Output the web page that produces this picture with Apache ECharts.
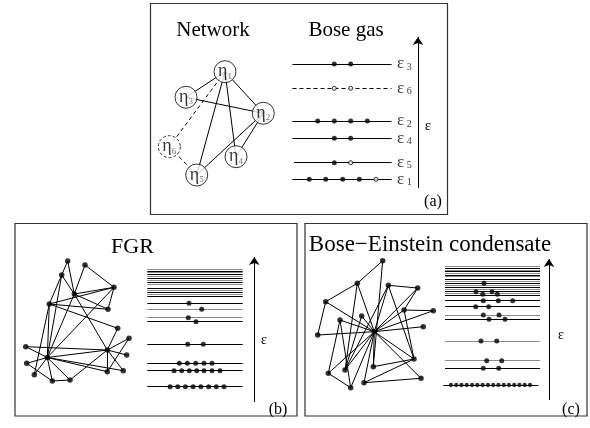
<!DOCTYPE html>
<html><head><meta charset="utf-8">
<script src="https://cdn.jsdelivr.net/npm/echarts@6/dist/echarts.min.js"></script>
<style>html,body{margin:0;padding:0;background:#fff}#c{width:590px;height:428px}</style>
</head><body><div id="c"></div><script>
// ---------- Panel (a): network ----------
const aNodes = [[225,71.7],[263.3,113.3],[186,97.3],[236,156.7],[196.7,175],[169.3,146.7]];
const aNodeNames = ['1','2','3','4','5','6'];
const aSolidEdges = [[0,2],[0,1],[0,3],[0,4],[2,1],[1,3],[1,4]];
const aDashedEdges = [[0,5],[5,4]];
// ---------- Panel (a): Bose gas levels ----------
const aLevelNames = ['3','6','2','4','5','1'];
const aLevelY = [64,88.3,121,138.3,162.7,179.3];
const aLevelDashed = [false,true,false,false,false,false];
const aFilled = [[334.3,350.7],[],[317.7,334.3,350.7,367.3],[334.3,350.7],[334.3],[309.3,325.7,342.7,359.3]];
const aOpen = [[],[334.3,350.7],[],[],[350.7],[376]];
// ---------- Panel (b): FGR ----------
const bNodes = [[67.7,261],[85,265],[61.7,275],[74.3,294],[114,287.3],[49.3,304],[108,309.3],[117.7,328.3],[129,338.3],[107.3,350],[126.7,355],[25.7,346.7],[47.3,357.5],[26.7,363.3],[107.3,371.7],[123.3,370.7],[34.3,374.7],[52.3,381],[70,380]];
const bEdges = [[0,3],[0,5],[2,3],[2,12],[1,4],[1,3],[3,4],[3,6],[3,9],[3,12],[4,6],[4,5],[4,12],[5,6],[5,7],[5,12],[5,16],[7,9],[11,9],[12,9],[12,14],[12,15],[9,14],[9,8],[9,10],[9,15],[8,14],[18,9],[17,18],[12,17],[12,18],[12,16],[12,11],[12,13],[13,17]];
const bBandY = [269.5,271,272.5,274,276,278,280,282,284.5,288.5,290.5,292.5,294.5,296.5];
const bLevelY = [303.3,309.3,317.7,321.7,344.3,363.3,370.7,386.7];
const bLevelGray = [false,true,true,false,false,false,false,false];
const bDots = [[189],[201.7],[188.3],[196],[187.7,203.3],[179.3,187.3,195.7,204,212],[174,181.7,189.3,196.7,204,212,220],[170,177.7,185.4,193.1,200.9,208.6,216.3,224]];
// ---------- Panel (c): Bose-Einstein condensate ----------
const cNodes = [[382.7,260.7],[357.3,283.3],[388.3,285.3],[417.7,288],[325.7,301.7],[404,310],[433.3,310.7],[361.7,316],[340,320],[423.3,326.7],[374.3,331.7],[317.7,335],[414,359],[373.3,366.7],[345,370],[328.3,373.3],[421,378.3],[364,382.7],[350.7,387.7]];
const cEdges = [[0,1],[0,13],[1,4],[1,10],[1,14],[2,3],[2,14],[2,12],[2,10],[3,5],[5,6],[5,12],[4,11],[4,10],[11,10],[8,15],[8,18],[15,18],[15,10],[13,12],[17,16],[17,12],[7,14],[6,10],[9,10],[12,10],[16,10],[13,10],[14,10],[17,10],[7,10],[8,10],[3,10],[5,10],[18,10]];
const cBandY = [266.7,268.3,270,271.7,273.3,275,276.7,279.3,281,283.3,285.7,287.7,289.3,291.7,293.3,295];
const cLevelY = [300.7,306.7,315,319.3,341,360.7,368.3,385];
const cLevelGray = [false,false,true,false,true,true,false,false];
const cDots = [[483.3,498.3,512.7],[475.7,488.7],[483.3,499],[489,505],[481,496.7],[486.7,501.7],[483.3,498.7],[451,456.3,461.5,466.8,472.1,477.3,482.6,487.9,493.1,498.4,503.7,508.9,514.2,519.5,524.7,530]];
const cBandDots = [[484,283.3],[476,291.7],[492,291.7],[482.7,294.3],[497.3,294.3]];

const FONT = 'Liberation Serif';
const GRAY = '#8a8a8a';
const series = [];
function edgeData(nodes, edges){ return edges.map(e => ({coords:[nodes[e[0]], nodes[e[1]]]})); }
function lineSeries(data, extra){
  return Object.assign({type:'lines', coordinateSystem:'cartesian2d', polyline:false, symbol:'none', silent:true,
    lineStyle:{color:'#000', width:1, opacity:1}, data:data, z:2}, extra||{});
}
// network edges
series.push(lineSeries(edgeData(aNodes,aSolidEdges)));
series.push(lineSeries(edgeData(aNodes,aDashedEdges), {lineStyle:{color:'#000',width:1,type:[4,3],opacity:1}}));
series.push(lineSeries(edgeData(bNodes,bEdges)));
series.push(lineSeries(edgeData(cNodes,cEdges)));
// levels
const lv = [];
aLevelY.forEach((y,i)=>{ if(!aLevelDashed[i]) lv.push({coords:[[i===4?294:292.5,y],[391.5,y]]}); });
bBandY.forEach((y,i)=> lv.push({coords:[[147.3,y],[242.7,y]], lineStyle:{color: i%2===0?GRAY:'#000'}}));
bLevelY.forEach((y,i)=> lv.push({coords:[[147.3,y],[242.7,y]], lineStyle:{color: bLevelGray[i]?GRAY:'#000'}}));
cBandY.forEach((y,i)=> lv.push({coords:[[445,y],[540,y]], lineStyle:{color: i%2===0?GRAY:'#000'}}));
cLevelY.forEach((y,i)=> lv.push({coords:[[i===7?443.3:445,y],[i===7?538.3:540,y]], lineStyle:{color: cLevelGray[i]?GRAY:'#000'}}));
series.push(lineSeries(lv));
const dl = [];
aLevelY.forEach((y,i)=>{ if(aLevelDashed[i]) dl.push({coords:[[292.5,y],[391.5,y]]}); });
series.push(lineSeries(dl, {lineStyle:{color:'#000',width:1,type:[4,3],opacity:1}}));
// energy axes (arrows)
series.push(lineSeries([{coords:[[418,188],[418,37]]},{coords:[[254.3,402],[254.3,257]]},{coords:[[549,400],[549,259]]}],
  {symbol:['none','arrow'], symbolSize:[1,8]}));
// dots
const filled = [], open = [];
aLevelY.forEach((y,i)=>{ aFilled[i].forEach(x=>filled.push([x,y])); aOpen[i].forEach(x=>open.push([x,y])); });
bLevelY.forEach((y,i)=> bDots[i].forEach(x=>filled.push([x,y])));
cLevelY.forEach((y,i)=>{ if(i<7) cDots[i].forEach(x=>filled.push([x,y])); });
cBandDots.forEach(p=>filled.push(p));
const smallDots = cDots[7].map(x=>[x,cLevelY[7]]);
series.push({type:'scatter', data:filled, symbolSize:5, itemStyle:{color:'#000'}, silent:true, z:4});
series.push({type:'scatter', data:smallDots, symbolSize:4.3, itemStyle:{color:'#000'}, silent:true, z:4});
series.push({type:'scatter', data:open, symbolSize:4, itemStyle:{color:'#fff', borderColor:'#000', borderWidth:1}, silent:true, z:4});
// network nodes
series.push({type:'scatter', data:bNodes.concat(cNodes), symbolSize:5.5, itemStyle:{color:'#000'}, silent:true, z:4});
series.push({type:'scatter', z:5, silent:true, symbolSize:22,
  data: aNodes.map((p,i)=>({value:p, name:aNodeNames[i],
    itemStyle: i===5 ? {color:'#fff', borderColor:'#000', borderWidth:1, borderType:[3,2]} : {color:'#fff', borderColor:'#000', borderWidth:1}})),
  label:{show:true, position:'inside', formatter: p => '{e|η}{s|'+p.name+'}',
    rich:{e:{fontFamily:FONT, fontSize:18, lineHeight:18, color:'#000'}, s:{fontFamily:FONT, fontSize:9, lineHeight:9, verticalAlign:'bottom', color:'#555'}}}
});
// level labels
series.push({type:'scatter', z:5, silent:true, symbolSize:0,
  data: aLevelY.map((y,i)=>({value:[397,y], name:aLevelNames[i]})),
  label:{show:true, position:'right', distance:0, formatter: p => '{e|ε}{s| '+p.name+'}',
    rich:{e:{fontFamily:FONT, fontSize:17, lineHeight:16, color:'#000'}, s:{fontFamily:FONT, fontSize:10, lineHeight:10, verticalAlign:'bottom', color:'#000'}}}
});

function txt(t,x,y,size){ return {type:'text', silent:true, style:{text:t, x:x, y:y, font:size+'px "'+FONT+'"', fill:'#000', align:'center', verticalAlign:'middle', textAlign:'center', textVerticalAlign:'middle'}}; }
function box(x,y,w,h){ return {type:'rect', silent:true, shape:{x:x,y:y,width:w,height:h}, style:{fill:'none', stroke:'#333', lineWidth:1.2}}; }

const chart = echarts.init(document.getElementById('c'), null, {renderer:'canvas'});
chart.setOption({
  animation:false,
  grid:{left:0, top:0, right:0, bottom:0},
  xAxis:{type:'value', min:0, max:590, show:false},
  yAxis:{type:'value', min:0, max:428, inverse:true, show:false},
  graphic:[
    box(150.5,3.5,297,211), box(15,223.5,282,192.5), box(305,223.5,282,192.5),
    txt('Network',213,30,21), txt('Bose gas',346,30,21),
    txt('FGR',132.5,247,22), txt('Bose\u2212Einstein condensate',430,245,23),
    txt('ε',428,126,15), txt('ε',264,340,14), txt('ε',561,335,14),
    txt('(a)',433,202,16), txt('(b)',278,410,16), txt('(c)',571,410,16)
  ],
  series: series
});
</script></body></html>
